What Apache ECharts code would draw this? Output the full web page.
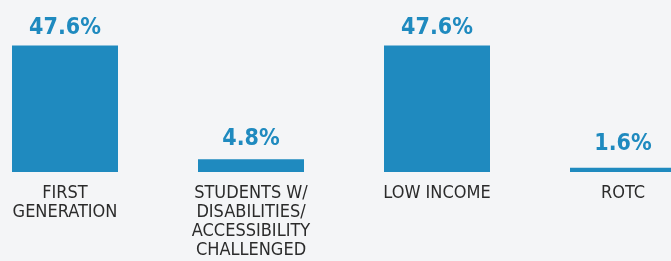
<!DOCTYPE html>
<html>
<head>
<meta charset="utf-8">
<script src="https://cdn.jsdelivr.net/npm/echarts@6/dist/echarts.min.js"></script>
<style>
  html, body { margin: 0; padding: 0; background: #f4f5f7; }
  #chart { width: 671px; height: 261px; }
</style>
</head>
<body>
<div id="chart"></div>
<script>
// data
const categories = ['FIRST\nGENERATION', 'STUDENTS W/\nDISABILITIES/\nACCESSIBILITY\nCHALLENGED', 'LOW INCOME', 'ROTC']
const percents = [47.6, 4.8, 47.6, 1.6]
const labelGaps = [6, 9, 6, 12]

const blue = '#1f8abf'
const narrow = '"DejaVu Sans Condensed", "Liberation Sans Narrow", sans-serif'

const chart = echarts.init(document.getElementById('chart'))

const seriesData = percents.map((v, i) => {
  return {
    value: v,
    label: { distance: labelGaps[i] }
  }
})

chart.setOption({
  backgroundColor: '#f4f5f7',
  animation: false,
  grid: {
    left: -28, right: -45, top: 39, bottom: 89,
    containLabel: false,
    outerBoundsMode: 'none'
  },
  xAxis: {
    type: 'category',
    data: categories,
    axisLine: { show: false },
    axisTick: { show: false },
    axisLabel: {
      interval: 0,
      margin: 12,
      color: '#2b2b2b',
      fontFamily: narrow,
      fontSize: 18,
      lineHeight: 19
    }
  },
  yAxis: {
    type: 'value',
    min: 0,
    max: 50,
    show: false,
    splitLine: { show: false }
  },
  series: [
    {
      type: 'bar',
      data: seriesData,
      barWidth: 106,
      itemStyle: { color: blue },
      label: {
        show: true,
        position: 'top',
        formatter: p => p.value + '%',
        color: blue,
        fontFamily: narrow,
        fontWeight: 'bold',
        fontSize: 23
      }
    }
  ]
})
</script>
</body>
</html>
